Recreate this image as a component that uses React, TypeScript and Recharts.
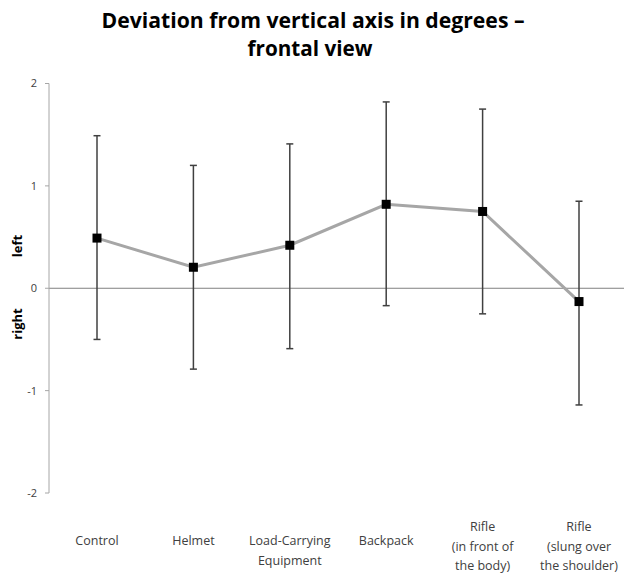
import React from "react";
import {
  LineChart,
  Line,
  XAxis,
  YAxis,
  ReferenceLine,
  ErrorBar,
} from "recharts";

// categories (each label split into display lines)
const categories = [
  ["Control"],
  ["Helmet"],
  ["Load-Carrying", "Equipment"],
  ["Backpack"],
  ["Rifle", "(in front of", "the body)"],
  ["Rifle", "(slung over", "the shoulder)"],
];

// mean deviation in degrees
const means = [0.49, 0.205, 0.42, 0.82, 0.75, -0.13];
// whisker ends
const upper = [1.49, 1.2, 1.41, 1.82, 1.75, 0.85];
const lower = [-0.5, -0.79, -0.59, -0.17, -0.25, -1.14];

const yTicks = [-2, -1, 0, 1, 2];

const data = categories.map((c, i) => ({
  name: c.join("\n"),
  mean: means[i],
  err: [means[i] - lower[i], upper[i] - means[i]],
}));

const FONT = "'Open Sans', 'Liberation Sans', sans-serif";

// square black marker
const SquareDot = (props: any) => {
  const { cx, cy } = props;
  if (cx == null || cy == null) return null;
  return <rect x={cx - 4.5} y={cy - 4.5} width={9} height={9} fill="#000" />;
};

const CategoryTick = (props: any) => {
  const { x, payload } = props;
  const lines = String(payload.value).split("\n");
  const startY = lines.length === 3 ? 531 : 545;
  return (
    <g>
      {lines.map((l, i) => (
        <text
          key={i}
          x={x}
          y={startY + i * 19.5}
          textAnchor="middle"
          fontSize={12.5}
          fontFamily={FONT}
          fill="#404040"
        >
          {l}
        </text>
      ))}
    </g>
  );
};

export default function App() {
  return (
    <div
      style={{
        position: "relative",
        width: 632,
        height: 580,
        marginLeft: -8,
        marginTop: -8,
        background: "#fff",
      }}
    >
      <LineChart
        width={632}
        height={580}
        data={data}
        margin={{ top: 83.5, right: 5, bottom: 0, left: 0 }}
      >
        <XAxis
          dataKey="name"
          axisLine={false}
          tickLine={false}
          height={87}
          interval={0}
          padding={{ left: 48, right: 48 }}
          tick={<CategoryTick />}
        />
        <YAxis
          width={49}
          domain={[-2, 2]}
          ticks={yTicks}
          axisLine={{ stroke: "#a6a6a6", strokeWidth: 1 }}
          tickLine={{ stroke: "#a6a6a6" }}
          tickSize={4}
          tickMargin={8}
          tick={{ fontSize: 11, fill: "#404040", fontFamily: FONT }}
        />
        <ReferenceLine y={0} stroke="#808080" strokeWidth={1} />
        <Line
          type="linear"
          dataKey="mean"
          stroke="#a6a6a6"
          strokeWidth={3}
          dot={<SquareDot />}
          activeDot={false}
          isAnimationActive={false}
        >
          <ErrorBar
            dataKey="err"
            width={3.5}
            stroke="#404040"
            strokeWidth={1.5}
            direction="y"
          />
        </Line>
      </LineChart>
      <svg
        width={632}
        height={580}
        style={{ position: "absolute", left: 0, top: 0, pointerEvents: "none" }}
      >
        <text
          x={313}
          y={28}
          textAnchor="middle"
          fontSize={21}
          fontWeight="bold"
          fontFamily={FONT}
          fill="#000"
          textLength={423}
          lengthAdjust="spacingAndGlyphs"
        >
          Deviation from vertical axis in degrees –
        </text>
        <text
          x={310}
          y={56}
          textAnchor="middle"
          fontSize={21}
          fontWeight="bold"
          fontFamily={FONT}
          fill="#000"
          textLength={125}
          lengthAdjust="spacingAndGlyphs"
        >
          frontal view
        </text>
        <text
          transform="translate(22,246) rotate(-90)"
          textAnchor="middle"
          fontSize={13}
          fontWeight="bold"
          fontFamily={FONT}
          fill="#000"
        >
          left
        </text>
        <text
          transform="translate(22,324) rotate(-90)"
          textAnchor="middle"
          fontSize={13}
          fontWeight="bold"
          fontFamily={FONT}
          fill="#000"
        >
          right
        </text>
      </svg>
    </div>
  );
}
